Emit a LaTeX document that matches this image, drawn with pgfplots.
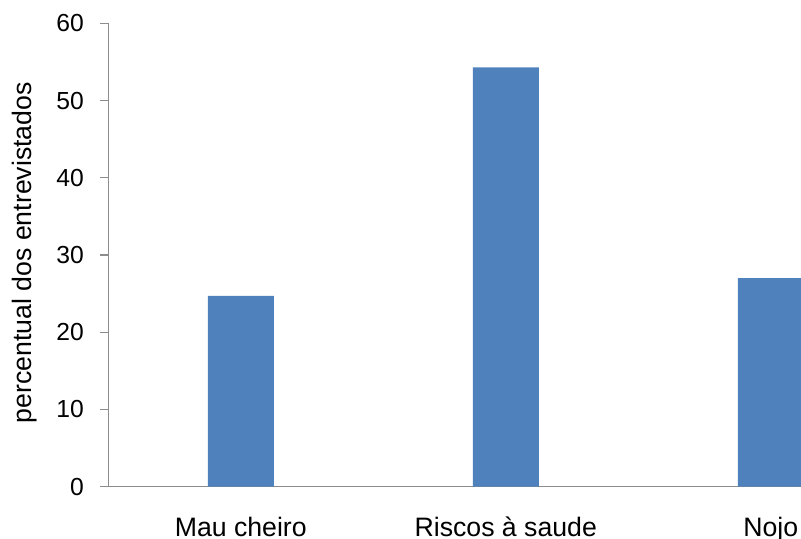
\documentclass[border=0pt]{standalone}
\usepackage{fontspec}
\setmainfont{Liberation Sans}
\usepackage{pgfplots}
\pgfplotsset{compat=1.18}
\definecolor{barblue}{HTML}{4F81BD}
\definecolor{axisgray}{HTML}{8C8C8C}
\begin{document}
\begin{tikzpicture}
\useasboundingbox (0,0) rectangle (600.75pt,404.25pt);
\clip (0,0) rectangle (600.75pt,404.25pt);
\begin{axis}[
  at={(81.2pt,39.2pt)}, anchor=south west,
  scale only axis, width=596.25pt, height=347.55pt,
  xmin=-0.5, xmax=2.5, ymin=0, ymax=60, enlargelimits=false,
  axis lines=left,
  axis line style={-, draw=axisgray, line width=1pt},
  xtick={0,1,2}, xticklabels={Mau cheiro, Riscos à saude, Nojo},
  xtick style={draw=none},
  ytick={0,10,...,60},
  ytick style={draw=axisgray, line width=1pt},
  tick align=outside, major tick length=6pt,
  /pgf/number format/assume math mode=true,
  yticklabel style={font=\fontsize{18.5}{20}\selectfont, anchor=east, inner sep=0pt, xshift=-12.2pt},
  xticklabel style={font=\fontsize{20}{24}\selectfont, anchor=base, inner sep=0pt, yshift=-31.1pt},
  ylabel={percentual dos entrevistados},
  ylabel style={font=\fontsize{20}{24}\selectfont, at={(axis description cs:-0.0964,0.505)}, anchor=base, inner sep=0pt},
]
\addplot[ybar, bar width=49.5pt, fill=barblue, draw=none] coordinates {(0,24.7) (1,54.3) (2,27.0)};
\end{axis}
\end{tikzpicture}
\end{document}
